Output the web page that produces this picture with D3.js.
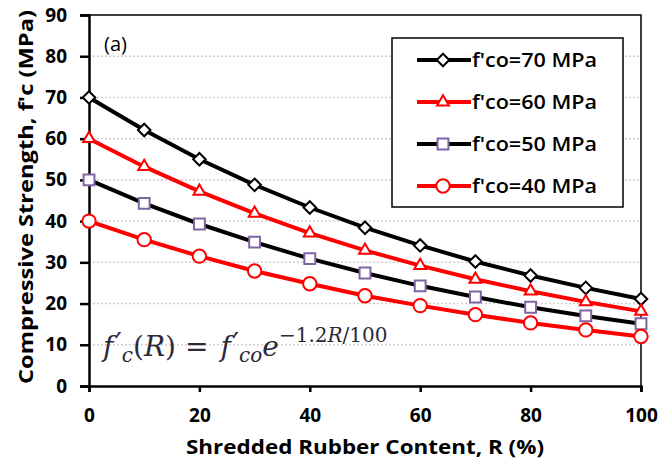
<!DOCTYPE html>
<html>
<head>
<meta charset="utf-8">
<script src="https://cdn.jsdelivr.net/npm/d3@7"></script>
<style>
  body { margin: 0; background: #fff; }
  text { font-family: "Open Sans", sans-serif; }
</style>
</head>
<body>
<div id="chart"></div>
<script>
const rubber = [0, 10, 20, 30, 40, 50, 60, 70, 80, 90, 100];
const fco70 = [70, 62.1, 55.0, 48.8, 43.3, 38.4, 34.1, 30.2, 26.8, 23.8, 21.1];
const fco60 = [60, 53.2, 47.2, 41.9, 37.1, 32.9, 29.2, 25.9, 23.0, 20.4, 18.1];
const fco50 = [50, 44.3, 39.3, 34.9, 30.9, 27.4, 24.3, 21.6, 19.1, 17.0, 15.1];
const fco40 = [40, 35.5, 31.5, 27.9, 24.8, 21.9, 19.5, 17.3, 15.3, 13.6, 12.0];
const xTicks = [0, 20, 40, 60, 80, 100];
const yTicks = [0, 10, 20, 30, 40, 50, 60, 70, 80, 90];

const w = 662, h = 465;
const margin = { top: 15, right: 21, bottom: 79, left: 89 };

const series = [
    { name: "f'co=70 MPa", values: fco70, line: "#000", marker: "diamond", mstroke: "#000" },
    { name: "f'co=60 MPa", values: fco60, line: "#ff0000", marker: "triangle", mstroke: "#ff0000" },
    { name: "f'co=50 MPa", values: fco50, line: "#000", marker: "square", mstroke: "#8064a2" },
    { name: "f'co=40 MPa", values: fco40, line: "#ff0000", marker: "circle", mstroke: "#ff0000" }
];

const svg = d3.select("#chart").append("svg")
    .attr("width", w)
    .attr("height", h);

const x = d3.scaleLinear().domain([0, 100]).range([margin.left, w - margin.right]);
const y = d3.scaleLinear().domain([0, 90]).range([h - margin.bottom, margin.top]);

// gridlines
svg.append("g")
    .selectAll("line")
    .data(yTicks.filter(d => d > 0 && d < 90))
    .enter()
    .append("line")
    .attr("x1", x(0)).attr("x2", x(100))
    .attr("y1", d => y(d)).attr("y2", d => y(d))
    .attr("stroke", "#cfcfcf")
    .attr("stroke-width", 1.5)
    .attr("stroke-dasharray", "2,2");

// top and right frame
svg.append("path")
    .attr("d", `M${x(0) - 9},${y(90)}H${x(100)}V${y(0) + 6}`)
    .attr("fill", "none")
    .attr("stroke", "#000")
    .attr("stroke-width", 1.5);

// axes
const yAxis = svg.append("g")
    .attr("transform", `translate(${x(0)},0)`)
    .call(d3.axisLeft(y).tickValues(yTicks).tickSize(9).tickPadding(13));
const xAxis = svg.append("g")
    .attr("transform", `translate(0,${y(0)})`)
    .call(d3.axisBottom(x).tickValues(xTicks).tickSize(6).tickPadding(17));

[yAxis, xAxis].forEach(a => {
    a.select(".domain").attr("stroke", "#000").attr("stroke-width", 2.5);
    a.selectAll(".tick line").attr("stroke", "#000").attr("stroke-width", 2.5);
    a.selectAll(".tick text")
        .style("font-family", "'Open Sans', sans-serif")
        .style("font-size", "19px")
        .style("font-weight", "bold")
        .attr("fill", "#000");
});

// series lines
const line = d3.line()
    .x((d, i) => x(rubber[i]))
    .y(d => y(d));

const symbolFor = {
    diamond: d3.symbol().type(d3.symbolDiamond2).size(100),
    triangle: d3.symbol().type(d3.symbolTriangle2).size(100),
    square: d3.symbol().type(d3.symbolSquare2).size(150),
    circle: d3.symbol().type(d3.symbolCircle).size(140)
};

series.forEach(s => {
    svg.append("path")
        .datum(s.values)
        .attr("d", line)
        .attr("fill", "none")
        .attr("stroke", s.line)
        .attr("stroke-width", 4);
});

series.forEach(s => {
    svg.append("g")
        .selectAll("path")
        .data(s.values)
        .enter()
        .append("path")
        .attr("transform", (d, i) => `translate(${x(rubber[i])},${y(d)})`)
        .attr("d", symbolFor[s.marker])
        .attr("fill", "#fff")
        .attr("stroke", s.mstroke)
        .attr("stroke-width", 2);
});

// legend
const legend = svg.append("g").attr("transform", "translate(392,38)");
legend.append("rect")
    .attr("width", 231)
    .attr("height", 169)
    .attr("fill", "#fff")
    .attr("stroke", "#000")
    .attr("stroke-width", 1.5);

const item = legend.selectAll("g.item")
    .data(series)
    .enter()
    .append("g")
    .attr("class", "item")
    .attr("transform", (d, i) => `translate(0,${22 + i * 42})`);

item.append("line")
    .attr("x1", 25).attr("x2", 79)
    .attr("stroke", d => d.line)
    .attr("stroke-width", 4);
item.append("path")
    .attr("transform", "translate(51,0)")
    .attr("d", d => symbolFor[d.marker]())
    .attr("fill", "#fff")
    .attr("stroke", d => d.mstroke)
    .attr("stroke-width", 2);
item.append("text")
    .attr("x", 80)
    .attr("y", 7)
    .attr("textLength", 125)
    .attr("lengthAdjust", "spacingAndGlyphs")
    .text(d => d.name)
    .style("font-size", "19px")
    .style("font-weight", 600);

// panel label
svg.append("text")
    .attr("x", 104)
    .attr("y", 51)
    .text("(a)")
    .style("font-size", "20px");

// equation
const eq = svg.append("text")
    .attr("x", 103)
    .attr("y", 356)
    .attr("fill", "#2a2a3a")
    .style("font-family", "'DejaVu Serif', serif")
    .style("font-size", "28px")
    .style("font-style", "italic");
eq.append("tspan").text("f");
eq.append("tspan").attr("dx", 2).attr("dy", -3).attr("font-style", "normal").text("′");
eq.append("tspan").attr("dy", 9).style("font-size", "20px").text("c");
eq.append("tspan").attr("dy", -6).attr("font-style", "normal").text("(");
eq.append("tspan").text("R");
eq.append("tspan").attr("font-style", "normal").text(")");
eq.append("tspan").attr("dx", 9).attr("font-style", "normal").text("=");
eq.append("tspan").attr("dx", 12).text("f");
eq.append("tspan").attr("dx", 2).attr("dy", -3).attr("font-style", "normal").text("′");
eq.append("tspan").attr("dy", 9).style("font-size", "20px").text("co");
eq.append("tspan").attr("dy", -6).text("e");
eq.append("tspan").attr("dy", -14).style("font-size", "20px").attr("font-style", "normal").text("−1.2");
eq.append("tspan").style("font-size", "20px").text("R");
eq.append("tspan").style("font-size", "20px").attr("font-style", "normal").text("/100");

// axis titles
svg.append("text")
    .attr("x", 365)
    .attr("y", 454)
    .attr("text-anchor", "middle")
    .attr("textLength", 358)
    .attr("lengthAdjust", "spacingAndGlyphs")
    .text("Shredded Rubber Content, R (%)")
    .style("font-size", "20px")
    .style("font-weight", "bold");

svg.append("text")
    .attr("transform", "translate(33,197) rotate(-90)")
    .attr("text-anchor", "middle")
    .attr("textLength", 374)
    .attr("lengthAdjust", "spacingAndGlyphs")
    .text("Compressive Strength, f'c (MPa)")
    .style("font-size", "20px")
    .style("font-weight", "bold");
</script>
</body>
</html>
